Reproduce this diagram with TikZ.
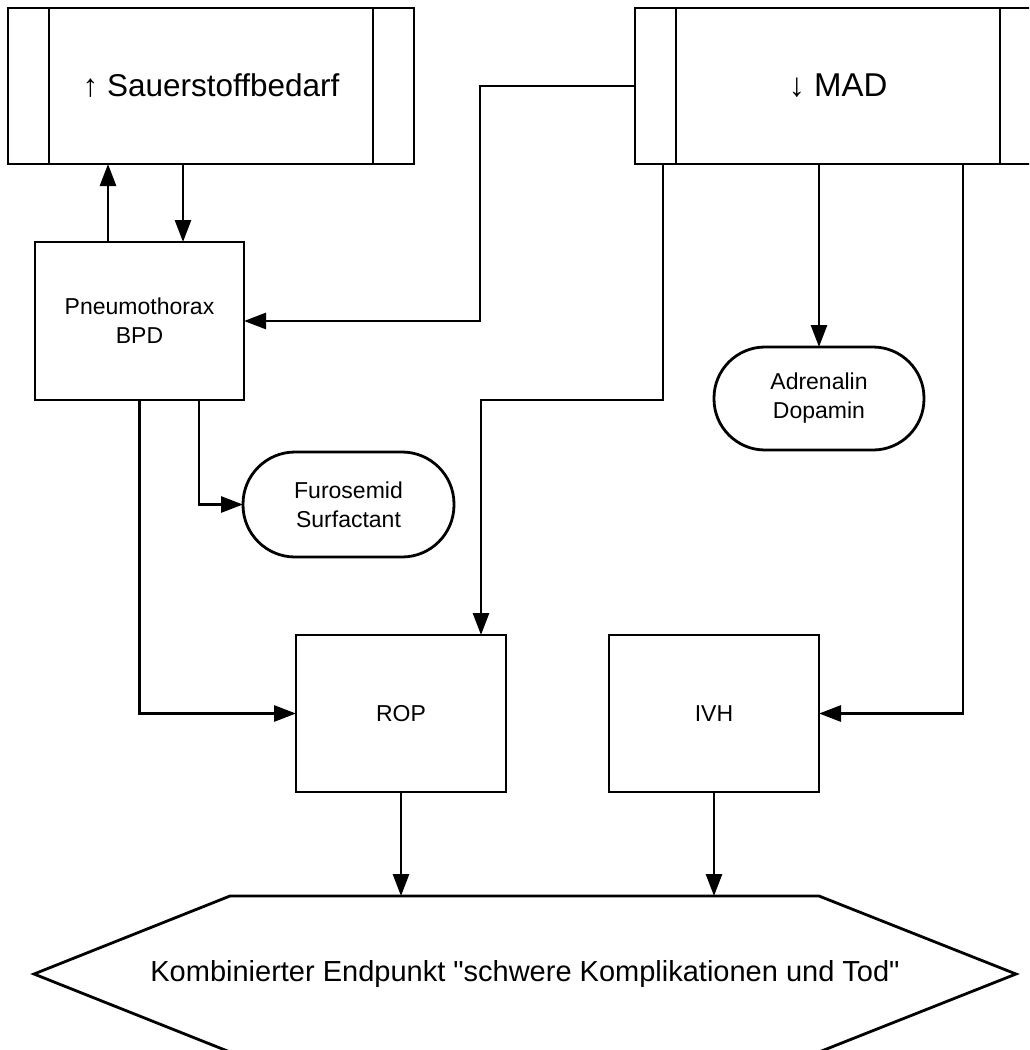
\documentclass[tikz,border=0pt]{standalone}
\usepackage{fontspec}
\setmainfont{Liberation Sans}[Ligatures=TeXOff]
\usetikzlibrary{arrows.meta}
\tikzset{
  x=1pt,y=-1pt,
  every node/.style={inner sep=0pt,outer sep=0pt},
  box/.style={draw,line width=2.8pt,rectangle,align=center},
  procbox/.style={box,minimum width=406pt,minimum height=156pt,font=\fontsize{31.5}{38}\selectfont},
  smallbox/.style={box,minimum width=210pt,minimum height=157pt,font=\fontsize{23}{29}\selectfont},
  stadium/.style={box,minimum width=211pt,minimum height=105pt,rounded corners=52pt,font=\fontsize{23}{29}\selectfont},
  conn/.style={line width=2.8pt},
  arr/.style={conn,-{Triangle[length=22pt,width=16pt]}},
  hexline/.style={draw,line width=2.8pt,line join=miter}
}
\begin{document}
\begin{tikzpicture}
\useasboundingbox (0,0) rectangle (1029,1050);
\clip (0,0) rectangle (1029,1050);
\fill[white] (0,0) rectangle (1029,1050);

% nodes
\node[procbox] (sauer) at (211,86) {↑ Sauerstoffbedarf};
\node[procbox,font=\fontsize{33}{40}\selectfont] (mad) at (838,86) {↓ MAD};
\draw[conn] ([xshift=41pt]sauer.north west) -- ([xshift=41pt]sauer.south west);
\draw[conn] ([xshift=-41pt]sauer.north east) -- ([xshift=-41pt]sauer.south east);
\draw[conn] ([xshift=41pt]mad.north west) -- ([xshift=41pt]mad.south west);
\draw[conn] ([xshift=-41pt]mad.north east) -- ([xshift=-41pt]mad.south east);

\node[smallbox,minimum width=209pt,minimum height=158pt] (pneu) at (139.5,321) {Pneumothorax\\BPD};
\node[stadium] (furo) at (348.5,504.5) {Furosemid\\Surfactant};
\node[stadium,minimum width=210pt,minimum height=103pt,rounded corners=51pt] (adre) at (819,398.5) {Adrenalin\\Dopamin};
\node[smallbox] (rop) at (401,713.5) {ROP};
\node[smallbox] (ivh) at (714,713.5) {IVH};

% hexagon
\draw[hexline] (230,896) coordinate (hexTL) -- (819,896) -- (1016,974) -- (819,1052) -- (230,1052) -- (34,974) -- cycle;
\node[font=\fontsize{29}{35}\selectfont] (hex) at (525,974) {Kombinierter Endpunkt "schwere Komplikationen und Tod"};

% helper coordinates
\coordinate (c108) at (108,0);
\coordinate (c183) at (183,0);
\coordinate (c480) at (480,0);
\coordinate (c663) at (663,0);
\coordinate (c963) at (963,0);
\coordinate (c199) at (199,0);
\coordinate (r400) at (481,400);

% connectors
\draw[arr] (pneu.north -| c108) -- (sauer.south -| c108);
\draw[arr] (sauer.south -| c183) -- (pneu.north -| c183);
\draw[arr] (mad.west) -- (mad.west -| c480) -- (c480 |- pneu.east) -- (pneu.east);
\draw[arr] (mad.south -| c663) |- (r400) -- (rop.north -| r400);
\draw[arr] (mad.south -| adre.north) -- (adre.north);
\draw[arr] (mad.south -| c963) |- (ivh.east);
\draw[arr] (pneu.south) |- (rop.west);
\draw[arr] (pneu.south -| c199) |- (furo.west);
\draw[arr] (rop.south) -- (rop.south |- hexTL);
\draw[arr] (ivh.south) -- (ivh.south |- hexTL);
\end{tikzpicture}
\end{document}
